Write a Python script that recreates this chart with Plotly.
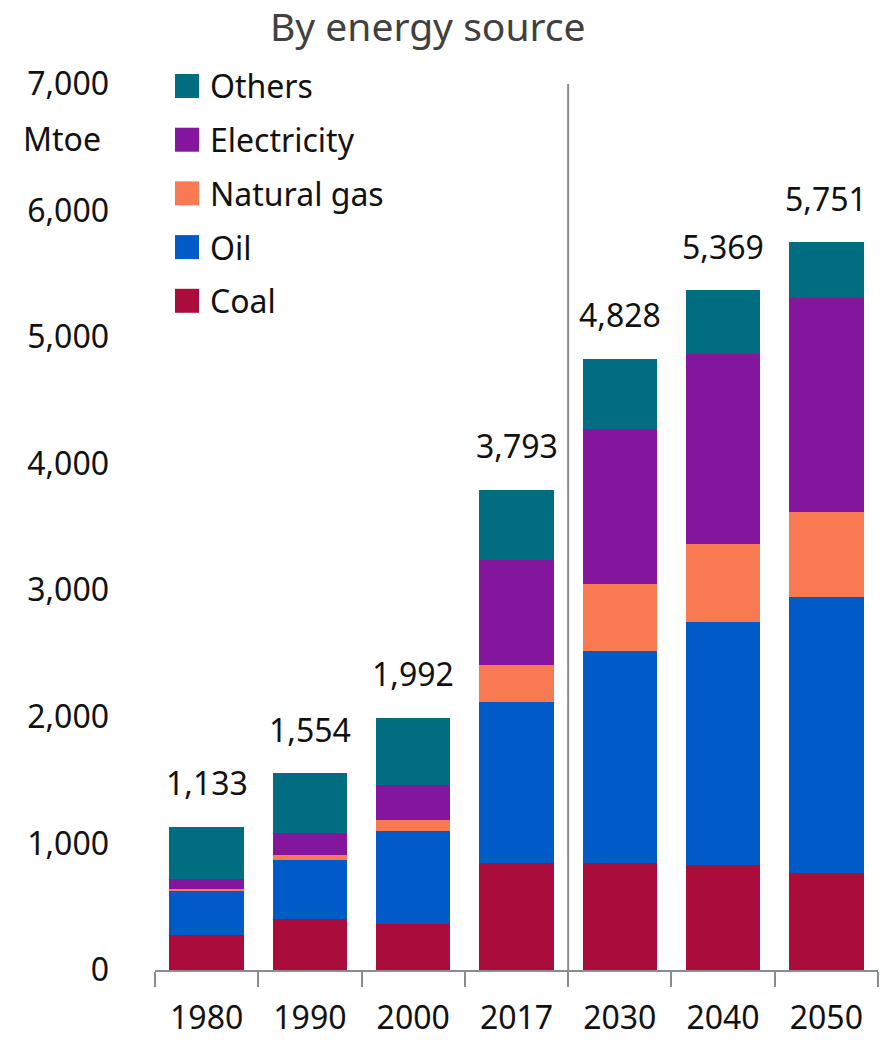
import plotly.graph_objects as go

years = ["1980", "1990", "2000", "2017", "2030", "2040", "2050"]
coal = [276, 405, 367, 849, 849, 831, 768]
oil = [346, 466, 734, 1269, 1672, 1922, 2177]
natural_gas = [20, 41, 87, 295, 526, 610, 674]
electricity = [80, 172, 277, 824, 1228, 1501, 1691]
others = [411, 470, 527, 556, 553, 505, 441]
totals = [1133, 1554, 1992, 3793, 4828, 5369, 5751]

series = [
    ("Coal", coal, "#AA0D3C"),
    ("Oil", oil, "#005BC9"),
    ("Natural gas", natural_gas, "#F97A52"),
    ("Electricity", electricity, "#84169E"),
    ("Others", others, "#006E80"),
]

FONT = "Noto Sans, Open Sans, sans-serif"
TXT = "#111111"

# figure geometry (px)
W, H = 882, 1040
ML, MR, MT, MB = 155, 4, 84, 70
PW, PH = W - ML - MR, H - MT - MB


def px_to_paper(px, py):
    return (px - ML) / PW, (H - MB - py) / PH


fig = go.Figure()
for name, vals, color in series:
    fig.add_trace(go.Bar(
        x=years, y=vals, name=name, showlegend=False,
        marker=dict(color=color, line=dict(width=0)),
        width=0.72,
    ))

# totals above each stack
for i, tot in enumerate(totals):
    fig.add_annotation(
        x=i, y=tot, text=f"{tot:,}", showarrow=False,
        xref="x", yref="y", yanchor="middle", yshift=44,
        font=dict(family=FONT, size=32, color=TXT),
    )

# separator between historical and projected years
fig.add_shape(type="line", xref="x", yref="y",
              x0=3.5, x1=3.5, y0=0, y1=7000,
              line=dict(color="#8c8c8c", width=2))

# unit label
fig.add_annotation(
    x=px_to_paper(62, 0)[0], y=6570, xref="paper", yref="y", text="Mtoe",
    showarrow=False, xanchor="center", yanchor="middle",
    font=dict(family=FONT, size=32, color=TXT),
)

# legend: colour squares and labels, top entry first
row0, row_step = 86, 53.7
for k, (name, _, color) in enumerate(reversed(series)):
    cy = row0 + k * row_step
    x0, y0 = px_to_paper(175, cy + 12)
    x1, y1 = px_to_paper(199, cy - 12)
    fig.add_shape(type="rect", xref="paper", yref="paper",
                  x0=x0, x1=x1, y0=y0, y1=y1,
                  fillcolor=color, line=dict(width=0))
    tx, ty = px_to_paper(208, cy)
    fig.add_annotation(x=tx, y=ty, xref="paper", yref="paper", text=name,
                       showarrow=False, xanchor="left", yanchor="middle",
                       font=dict(family=FONT, size=32, color=TXT))

fig.update_layout(
    width=W, height=H,
    margin=dict(l=ML, r=MR, t=MT, b=MB),
    barmode="stack",
    plot_bgcolor="white", paper_bgcolor="white",
    font=dict(family=FONT, size=32, color=TXT),
    title=dict(text="By energy source", x=0.485, xanchor="center",
               y=1 - 27 / H, yanchor="middle",
               font=dict(family=FONT, size=39, color="#404040")),
    showlegend=False,
    xaxis=dict(
        type="category", showgrid=False, showline=True,
        linecolor="#8c8c8c", linewidth=2,
        ticks="outside", tickson="boundaries", ticklen=15,
        tickcolor="#8c8c8c", tickwidth=2, ticklabelstandoff=19,
        tickfont=dict(family=FONT, size=32, color=TXT),
        range=[-0.5, 6.5], automargin=False,
    ),
    yaxis=dict(
        range=[0, 7000], dtick=1000, tickformat=",",
        showgrid=False, showline=False, zeroline=False,
        ticks="", ticklabelstandoff=45, automargin=False,
        tickfont=dict(family=FONT, size=32, color=TXT),
    ),
)

fig.write_html("out.html")
